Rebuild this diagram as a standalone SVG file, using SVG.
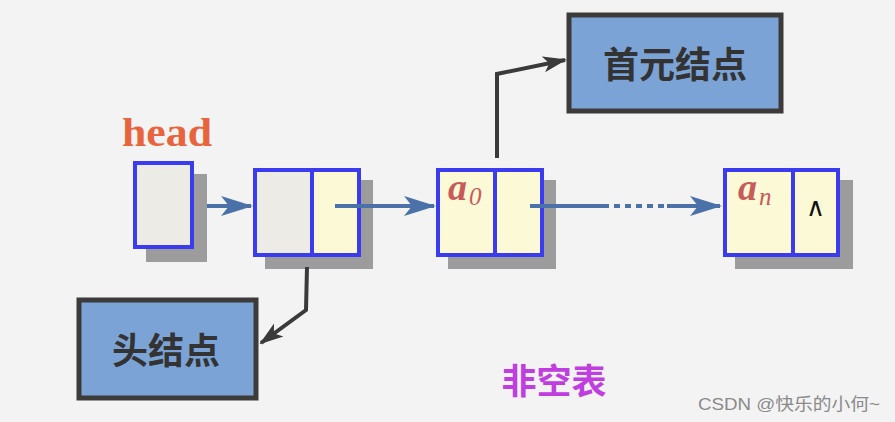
<svg xmlns="http://www.w3.org/2000/svg" width="895" height="422" viewBox="0 0 895 422">
<style>
.shadow{fill:#9c9c9c}
.cell{stroke:#3b3bf0;stroke-width:4}
.gray{fill:#ecebe6}
.yel{fill:#fcf9d6}
.label{fill:#7ba3d6;stroke:#3d3a3a;stroke-width:5}
.lt{font-family:"Noto Sans CJK SC","Noto Sans",sans-serif;font-weight:bold;fill:#333;font-size:36px;text-anchor:middle}
.math{font-family:"Liberation Serif","DejaVu Serif",serif;font-style:italic;font-weight:bold;fill:#c85a5a}
.blue{stroke:#4a72a8;stroke-width:4;fill:none}
.dark{stroke:#3a3a3a;stroke-width:4;fill:none}
</style>
<defs>
<marker id="ab" markerWidth="8" markerHeight="6" refX="7.5" refY="3" orient="auto" markerUnits="strokeWidth"><path d="M0,0.5 L8,3 L0,5.5 L2,3 z" fill="#4a72a8"/></marker>
<marker id="ad" markerWidth="6" markerHeight="5" refX="5.5" refY="2.5" orient="auto" markerUnits="strokeWidth"><path d="M0,0.5 L6,2.5 L0,4.5 L1.5,2.5 z" fill="#3a3a3a"/></marker>
</defs>
<rect width="895" height="422" fill="#f3f3f3"/>

<g id="head">
<text x="122" y="146" font-family="Liberation Serif,serif" font-weight="bold" font-size="39" fill="#e8643c" textLength="90" lengthAdjust="spacingAndGlyphs">head</text>
<rect class="shadow" x="146" y="174" width="61" height="88"/>
<rect class="cell gray" x="135" y="163" width="57" height="84"/>
</g>

<g id="headnode">
<rect class="shadow" x="265" y="180" width="108" height="89"/>
<rect class="cell gray" x="255" y="170" width="57" height="85"/>
<rect class="cell yel" x="312" y="170" width="47" height="85"/>
</g>

<g id="a0">
<rect class="shadow" x="448" y="180" width="108" height="89"/>
<rect class="cell yel" x="438" y="170" width="57" height="85"/>
<rect class="cell yel" x="495" y="170" width="47" height="85"/>
<text class="math" x="448" y="200" font-size="38">a<tspan font-size="25" font-weight="normal" dx="2" dy="5">0</tspan></text>
</g>

<g id="an">
<rect class="shadow" x="735" y="180" width="118" height="89"/>
<rect class="cell yel" x="725" y="170" width="68" height="85"/>
<rect class="cell yel" x="793" y="170" width="45" height="85"/>
<text class="math" x="738" y="200" font-size="38">a<tspan font-size="25" font-weight="normal" dx="2" dy="5">n</tspan></text>
<text x="815" y="216" font-family="DejaVu Sans,sans-serif" font-weight="200" font-size="26" fill="#111" text-anchor="middle">∧</text>
</g>

<g id="firstnode">
<rect class="label" x="569" y="15" width="212" height="96"/>
<text class="lt" x="675" y="78">首元结点</text>
</g>

<g id="headlabel">
<rect class="label" x="79" y="300" width="177" height="98"/>
<text class="lt" x="166" y="364">头结点</text>
</g>

<g id="connectors">
<line class="blue" x1="207" y1="206" x2="251" y2="206" marker-end="url(#ab)"/>
<line class="blue" x1="335" y1="206" x2="434" y2="206" marker-end="url(#ab)"/>
<line class="blue" x1="530" y1="206" x2="603" y2="206"/>
<line class="blue" x1="603" y1="206" x2="667" y2="206" stroke-dasharray="6,5"/>
<line class="blue" x1="667" y1="206" x2="720" y2="206" marker-end="url(#ab)"/>
<polyline class="dark" points="497,158 497,74 565,60" marker-end="url(#ad)"/>
<polyline class="dark" points="307,267 306,310 261,343" marker-end="url(#ad)"/>
</g>

<text x="554" y="394" font-family="Noto Sans CJK SC,sans-serif" font-weight="bold" font-size="35" fill="#c03ee0" text-anchor="middle">非空表</text>
<text x="698" y="410" font-family="Liberation Sans,Noto Sans CJK SC,sans-serif" font-size="17" fill="#8a8a8a" textLength="182" lengthAdjust="spacingAndGlyphs">CSDN @快乐的小何~</text>
</svg>
